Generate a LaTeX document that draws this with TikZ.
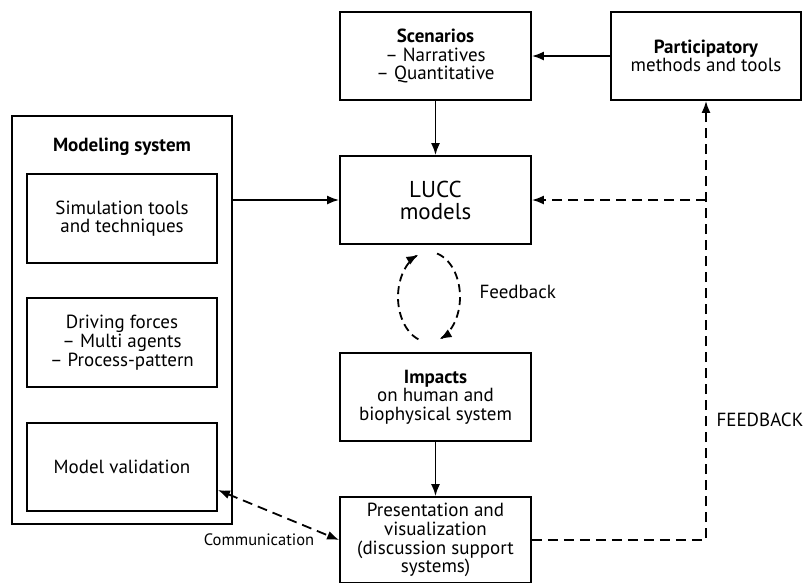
\documentclass[tikz,border=0pt]{standalone}
\usepackage{fontspec}
\setmainfont{PT Sans}
\usetikzlibrary{arrows.meta}
\begin{document}
\begin{tikzpicture}[x=1pt,y=-1pt,
  txt/.style={font=\fontsize{19}{18.7}\selectfont},
  box/.style={txt, draw, line width=1.8pt, align=center, inner sep=0pt,
    minimum width=191pt, minimum height=88pt},
  sidebox/.style={box, minimum width=190pt, minimum height=89pt},
  frame/.style={draw, line width=2.6pt, inner sep=0pt,
    minimum width=220pt, minimum height=408pt},
  arr/.style={line width=1.8pt, -{Latex[length=12pt,width=9pt]}},
  darr/.style={arr, dash pattern=on 10pt off 6pt},
  dline/.style={line width=1.8pt, dash pattern=on 10pt off 6pt}]
\useasboundingbox (0,0) rectangle (810,582);

% right-hand column
\node[box] (scen) at (435.5,56) {\textbf{Scenarios}\\– Narratives\\– Quantitative};
\node[box, minimum width=190pt] (part) at (706,56) {\textbf{Participatory}\\methods and tools};
\node[box, font=\fontsize{23}{22}\selectfont] (lucc) at (435.5,200) {LUCC\\models};
\node[box] (imp) at (435.5,397) {\textbf{Impacts}\\on human and\\biophysical system};
\node[box, minimum height=86pt] (pres) at (435.5,540)
  {Presentation and\\visualization\\(discussion support\\systems)};

% modeling system frame
\node[frame] (sys) at (122,320) {};
\node[txt, font=\fontsize{19}{18.7}\selectfont\bfseries] (systitle) at (122,147) {Modeling system};
\node[sidebox] (sim) at (122,218.5) {Simulation tools\\and techniques};
\node[sidebox] (drive) at (122,342.5) {Driving forces\\– Multi agents\\– Process-pattern};
\node[sidebox, minimum height=88pt] (val) at (122,467) {Model validation};

% solid connectors
\draw[arr] (part.west) -- (scen.east);
\draw[arr] (scen.south) -- (lucc.north);
\draw[arr] (sys.east |- lucc.west) -- (lucc.west);
\draw[arr] (imp.south) -- (pres.north);

% FEEDBACK loop on the right
\coordinate (fbjoin) at (part.south |- lucc.east);
\draw[darr] (pres.east) -| (part.south);
\draw[darr] (fbjoin) -- (lucc.east);
\node[txt, anchor=west] (fblabel) at (713,420) {FEEDBACK};

% internal feedback cycle between LUCC models and impacts
\draw[darr, dash pattern=on 8pt off 5pt] plot[domain=110:250, samples=40] ({429+31*cos(\x)}, {297+45*sin(\x)});
\draw[darr, dash pattern=on 8pt off 5pt] plot[domain=285:430, samples=40] ({429+31*cos(\x)}, {297+45*sin(\x)});
\node[txt, anchor=west] (cyclabel) at (476,292) {Feedback};

% communication link
\draw[dline, {Latex[length=12pt,width=9pt]}-{Latex[length=12pt,width=9pt]}]
  ([yshift=-23pt]val.east) -- (pres.west);
\node[txt, font=\fontsize{16.5}{18}\selectfont] (comm) at (259,540) {Communication};
\end{tikzpicture}
\end{document}
